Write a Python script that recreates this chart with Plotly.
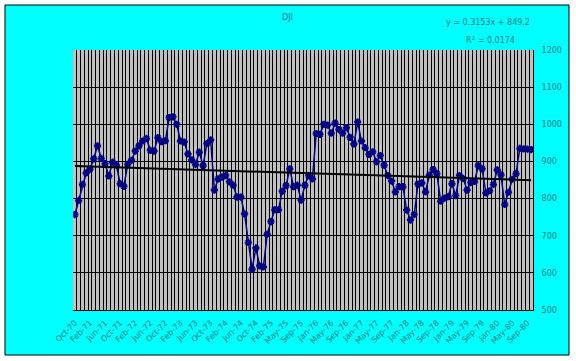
import plotly.graph_objects as go

# DJI monthly values, Oct-70 .. Oct-80 (Mar-75 appears twice in the source)
dji = [757, 795, 838, 869, 879, 907, 942, 908, 894, 861, 898, 890,
       840, 833, 892, 903, 928, 942, 955, 962, 930, 928, 964, 953,
       956, 1018, 1020, 1000, 955, 952, 920, 904, 892, 925, 889, 948,
       958, 823, 853, 858, 862, 845, 836, 804, 804, 759, 682, 610,
       667, 619, 616, 704, 738, 770, 770, 820, 835, 880, 832, 836,
       796, 836, 862, 853, 975, 973, 1000, 998, 976, 1003, 986, 976,
       991, 965, 947, 1006, 955, 937, 919, 926, 899, 916, 890, 862,
       847, 818, 832, 832, 769, 742, 757, 839, 842, 818, 863, 878,
       867, 793, 801, 805, 840, 808, 862, 854, 823, 843, 846, 889,
       880, 815, 821, 838, 877, 864, 784, 817, 852, 867, 935, 934,
       933, 932]

tick_labels = ["Oct-70", "Feb-71", "Jun-71", "Oct-71", "Feb-72", "Jun-72", "Oct-72",
               "Feb-73", "Jun-73", "Oct-73", "Feb-74", "Jun-74", "Oct-74", "Feb-75",
               "May-75", "Sep-75", "Jan-76", "May-76", "Sep-76", "Jan-77", "May-77",
               "Sep-77", "Jan-78", "May-78", "Sep-78", "Jan-79", "May-79", "Sep-79",
               "Jan-80", "May-80", "Sep-80"]
label_step = 4

trend_slope = 0.3153
trend_intercept = 849.2
r_squared = "0.0174"

n = len(dji)
idx = list(range(n))
# source rows were in reverse date order: x = 1 is the latest month
trend = [trend_slope * (n - i) + trend_intercept for i in idx]
tick_pos = [i * label_step for i in range(len(tick_labels))]

txt = "#008080"
fnt = dict(family="DejaVu Sans, Verdana, sans-serif", size=8, color=txt)

fig = go.Figure()
fig.add_trace(go.Scatter(x=idx, y=dji, mode="lines+markers",
                         line=dict(color="#000080", width=1.5),
                         marker=dict(symbol="asterisk-open", size=6,
                                     line=dict(color="#000080", width=2),
                                     color="#000080"),
                         showlegend=False, hoverinfo="skip"))
fig.add_trace(go.Scatter(x=idx, y=trend, mode="lines",
                         line=dict(color="black", width=2),
                         showlegend=False, hoverinfo="skip"))

L, R, T, B = 73, 43, 50, 51
W, H = 576, 361
pw, ph = W - L - R, H - T - B


def px(x):
    return (x - L) / pw


def py(y):
    return (H - B - y) / ph


fig.update_layout(
    width=W, height=H,
    margin=dict(l=L, r=R, t=T, b=B, pad=0),
    paper_bgcolor="white",
    plot_bgcolor="#C0C0C0",
    font=fnt,
    shapes=[
        dict(type="rect", xref="paper", yref="paper", layer="below",
             x0=px(5), x1=px(569), y0=py(355), y1=py(5),
             fillcolor="#00FFFF", line=dict(color="black", width=1)),
        dict(type="rect", xref="paper", yref="paper", layer="below",
             x0=0, x1=1, y0=0, y1=1,
             fillcolor="#C0C0C0", line=dict(width=0)),
    ],
    annotations=[
        dict(text="DJI", xref="paper", yref="paper", x=px(287), y=py(17),
             showarrow=False, font=fnt, xanchor="center", yanchor="middle"),
        dict(text="y = %.4fx + %.1f" % (trend_slope, trend_intercept),
             xref="paper", yref="paper", x=px(488), y=py(23),
             showarrow=False, font=fnt, xanchor="center", yanchor="middle"),
        dict(text="R<sup>2</sup> = " + r_squared,
             xref="paper", yref="paper", x=px(490), y=py(40),
             showarrow=False, font=fnt, xanchor="center", yanchor="middle"),
    ],
    xaxis=dict(range=[-0.5, n - 0.5], tickmode="array", tickvals=tick_pos,
               ticktext=tick_labels, tickangle=-45, showgrid=False,
               zeroline=False, showline=True, linecolor="black", linewidth=1,
               ticks="", ticklabelstandoff=4, tickfont=fnt,
               minor=dict(tickmode="linear", tick0=-0.5, dtick=1, showgrid=True,
                          gridcolor="black", gridwidth=1, ticks="")),
    yaxis=dict(range=[500, 1200], side="right", dtick=100, tick0=500,
               showgrid=True, gridcolor="black", gridwidth=1,
               zeroline=False, showline=True, linecolor="black", linewidth=1,
               ticks="", ticklabelstandoff=6, tickfont=fnt),
)

fig.write_html("out.html",
               config={"displayModeBar": False},
               post_script="document.body.style.margin='0';"
                           "document.body.style.padding='0';")
